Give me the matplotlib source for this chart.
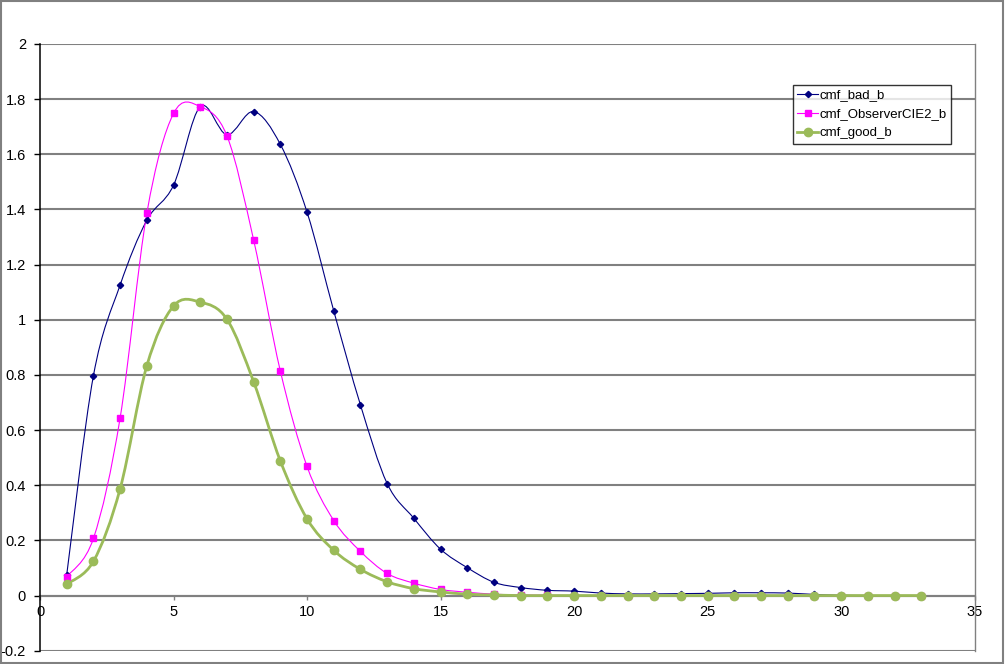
import numpy as np
import matplotlib.pyplot as plt
from matplotlib.path import Path
from matplotlib.patches import PathPatch, Rectangle
from matplotlib.lines import Line2D

plt.rcParams['font.family'] = ['Liberation Sans', 'DejaVu Sans']

x = list(range(1, 34))

bad_b = [0.075, 0.797, 1.126, 1.361, 1.488, 1.773, 1.671, 1.755, 1.636, 1.390,
         1.032, 0.691, 0.406, 0.280, 0.168, 0.101, 0.048, 0.029, 0.019, 0.016,
         0.009, 0.006, 0.006, 0.007, 0.008, 0.010, 0.010, 0.009, 0.004, 0.001,
         0.0, 0.0, 0.0]
observer_b = [0.068, 0.207, 0.644, 1.386, 1.748, 1.773, 1.667, 1.289, 0.814, 0.468,
              0.272, 0.160, 0.080, 0.045, 0.022, 0.012, 0.005, 0.002, 0.001, 0.0,
              0.0, 0.0, 0.0, 0.0, 0.0, 0.0, 0.0, 0.0, 0.0, 0.0,
              0.0, 0.0, 0.0]
good_b = [0.041, 0.124, 0.387, 0.833, 1.050, 1.064, 1.002, 0.775, 0.488, 0.278,
          0.164, 0.095, 0.050, 0.025, 0.013, 0.005, 0.002, 0.0, 0.0, 0.0,
          0.0, 0.0, 0.0, 0.0, 0.0, 0.0, 0.0, 0.0, 0.0, 0.0,
          0.0, 0.0, 0.0]

series = [
    ("cmf_bad_b", bad_b, "#000080", 0.8, "D", 3.2),
    ("cmf_ObserverCIE2_b", observer_b, "#FF00FF", 0.8, "s", 4.2),
    ("cmf_good_b", good_b, "#9BBB59", 2.0, "o", 6),
]


def smooth_path(xs, ys):
    # Excel-style smoothed line: cubic Bezier segments through the points
    xs = np.asarray(xs, float)
    ys = np.asarray(ys, float)
    n = len(xs)
    verts = [(xs[0], ys[0])]
    codes = [Path.MOVETO]
    for i in range(n - 1):
        p0 = (xs[max(i - 1, 0)], ys[max(i - 1, 0)])
        p1 = (xs[i], ys[i])
        p2 = (xs[i + 1], ys[i + 1])
        p3 = (xs[min(i + 2, n - 1)], ys[min(i + 2, n - 1)])
        c1 = (p1[0] + (p2[0] - p0[0]) / 6, p1[1] + (p2[1] - p0[1]) / 6)
        c2 = (p2[0] - (p3[0] - p1[0]) / 6, p2[1] - (p3[1] - p1[1]) / 6)
        verts += [c1, c2, p2]
        codes += [Path.CURVE4] * 3
    return Path(verts, codes)


fig = plt.figure(figsize=(10.05, 6.64), dpi=100)
ax = fig.add_axes([40 / 1005, 13.3 / 664, 934.7 / 1005, 606.7 / 664])

# outer chart frame
fig.patches.append(Rectangle((0.5 / 1005, 1.5 / 664), 1002.5 / 1005, 662 / 664,
                             transform=fig.transFigure, fill=False,
                             edgecolor='#808080', linewidth=1.5))

ax.set_xlim(0, 35)
ax.set_ylim(-0.2, 2)
ax.set_xticks(np.arange(0, 36, 5))
ax.set_yticks(np.arange(-0.2, 2.01, 0.2))
ax.set_yticklabels(["-0.2", "0", "0.2", "0.4", "0.6", "0.8", "1", "1.2",
                    "1.4", "1.6", "1.8", "2"])

ax.grid(axis='y', color='#808080', linewidth=1.5)
ax.set_axisbelow(True)

ax.spines['top'].set_visible(False)
ax.spines['right'].set_color('#808080')
ax.spines['right'].set_linewidth(1.0)
ax.spines['left'].set_color('black')
ax.spines['left'].set_linewidth(1.1)
ax.spines['bottom'].set_position(('data', 0))
ax.spines['bottom'].set_color('#808080')
ax.spines['bottom'].set_linewidth(1.5)
ax.spines['bottom'].set_zorder(1.5)

ax.tick_params(axis='y', length=4, width=1, labelsize=10.5, colors='black', pad=6)
ax.tick_params(axis='x', length=3, width=1, labelsize=10.5, color='#808080',
               labelcolor='black', pad=4)

handles = []
for name, vals, color, lw, marker, ms in series:
    patch = PathPatch(smooth_path(x, vals), facecolor='none', edgecolor=color,
                      linewidth=lw, zorder=3)
    ax.add_patch(patch)
    ax.plot(x, vals, linestyle='none', marker=marker, color=color,
            markersize=ms, zorder=4)
    handles.append(Line2D([], [], color=color, linewidth=lw, marker=marker,
                          markersize=ms, label=name))

leg = ax.legend(handles=handles, loc='upper left',
                bbox_to_anchor=(752.7 / 934.7, 1 - 40.7 / 606.7), fontsize=9.5,
                frameon=True, fancybox=False, handlelength=1.6,
                handletextpad=0.1, borderpad=0.35, labelspacing=0.5,
                borderaxespad=0)
leg.get_frame().set_edgecolor('black')
leg.get_frame().set_linewidth(1.0)

fig.savefig("out.png", dpi=100)
